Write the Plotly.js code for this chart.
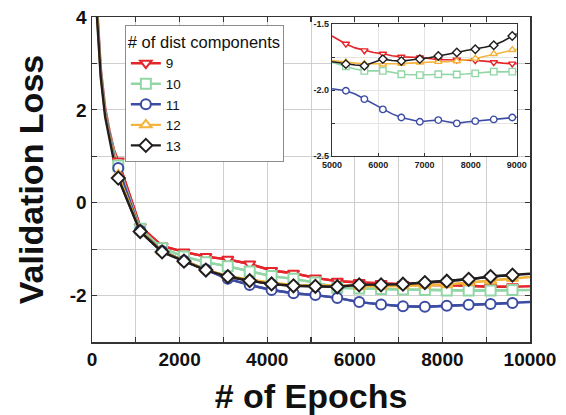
<!DOCTYPE html>
<html>
<head>
<meta charset="utf-8">
<script src="https://cdn.plot.ly/plotly-3.0.1.min.js"></script>
<style>
  html, body { margin: 0; padding: 0; background: #fff; }
  #chart { width: 566px; height: 415px; }
</style>
</head>
<body>
<div id="chart"></div>
<script>
// ---- Data ----
const seriesNames = ['9', '10', '11', '12', '13'];

// Main plot: epochs of the curve points
const mainEpochs = [100, 200, 300, 400, 500, 600, 1100, 1600, 2100, 2600, 3100, 3600, 4100, 4600,
                    5100, 5600, 6100, 6600, 7100, 7600, 8100, 8600, 9100, 9600, 10000];
const loss9  = [4.5, 2.9, 2.05, 1.55, 1.15, 0.9, -0.51, -0.93, -1.06, -1.16, -1.22, -1.32, -1.46, -1.52,
                -1.62, -1.69, -1.72, -1.74, -1.76, -1.77, -1.77, -1.79, -1.81, -1.81, -1.80];
const loss10 = [4.4, 2.85, 2.0, 1.5, 1.1, 0.8, -0.56, -0.98, -1.16, -1.28, -1.37, -1.48, -1.58, -1.64,
                -1.72, -1.83, -1.85, -1.86, -1.87, -1.88, -1.89, -1.89, -1.89, -1.88, -1.88];
const loss11 = [4.35, 2.8, 1.95, 1.45, 1.0, 0.75, -0.6, -1.04, -1.25, -1.44, -1.64, -1.77, -1.88, -1.95,
                -1.99, -2.05, -2.14, -2.19, -2.23, -2.24, -2.22, -2.20, -2.18, -2.16, -2.14];
const loss12 = [4.3, 2.75, 1.9, 1.4, 0.95, 0.6, -0.6, -1.05, -1.25, -1.44, -1.58, -1.66, -1.73, -1.77,
                -1.78, -1.79, -1.805, -1.80, -1.79, -1.78, -1.765, -1.72, -1.68, -1.63, -1.60];
const loss13 = [4.2, 2.7, 1.85, 1.35, 0.9, 0.53, -0.62, -1.06, -1.26, -1.45, -1.59, -1.68, -1.75, -1.79,
                -1.80, -1.81, -1.77, -1.77, -1.755, -1.72, -1.69, -1.65, -1.59, -1.56, -1.53];

// Inset (zoom 5000-9000)
const insetEpochs = [5000, 5100, 5300, 5500, 5700, 5900, 6100, 6300, 6500, 6700, 6900, 7100,
                     7300, 7500, 7700, 7900, 8100, 8300, 8500, 8700, 8900, 9000];
const inset9  = [-1.59, -1.61, -1.65, -1.68, -1.70, -1.715, -1.725, -1.74, -1.748, -1.75, -1.753, -1.76,
                 -1.77, -1.77, -1.77, -1.77, -1.775, -1.78, -1.79, -1.795, -1.80, -1.80];
const inset10 = [-1.79, -1.80, -1.82, -1.84, -1.854, -1.855, -1.854, -1.865, -1.88, -1.884, -1.886, -1.884,
                 -1.88, -1.882, -1.882, -1.878, -1.873, -1.868, -1.86, -1.862, -1.86, -1.858];
const inset11 = [-1.99, -1.995, -2.005, -2.03, -2.068, -2.11, -2.146, -2.18, -2.207, -2.225, -2.24, -2.232,
                 -2.227, -2.24, -2.252, -2.242, -2.235, -2.232, -2.222, -2.218, -2.207, -2.205];
const inset12 = [-1.775, -1.78, -1.788, -1.795, -1.80, -1.80, -1.805, -1.805, -1.80, -1.795, -1.79, -1.79,
                 -1.785, -1.785, -1.78, -1.772, -1.76, -1.745, -1.725, -1.71, -1.695, -1.69];
const inset13 = [-1.785, -1.79, -1.803, -1.81, -1.815, -1.79, -1.765, -1.775, -1.78, -1.772, -1.765, -1.755,
                 -1.742, -1.73, -1.715, -1.70, -1.69, -1.675, -1.66, -1.63, -1.59, -1.572];

// Axis ticks
const xTickVals = [0, 1000, 2000, 3000, 4000, 5000, 6000, 7000, 8000, 9000, 10000];
const xTickText = ['0', '', '2000', '', '4000', '', '6000', '', '8000', '', '10000'];
const yTickVals = [-3, -2, -1, 0, 1, 2, 3, 4];
const yTickText = ['', '-2', '', '0', '', '2', '', '4'];
const insetXTickVals = [5000, 6000, 7000, 8000, 9000];
const insetXTickText = ['5000', '6000', '7000', '8000', '9000'];
const insetYTickVals = [-2.5, -2.25, -2.0, -1.75, -1.5];
const insetYTickText = ['-2.5', '', '-2.0', '', '-1.5'];

// ---- Styles ----
const colors  = ['#e5252b', '#93d6a6', '#3c4ca4', '#f2b43b', '#221e1f'];
const symbols = ['triangle-down', 'square', 'circle', 'triangle-up', 'diamond'];
const mainLoss  = [loss9, loss10, loss11, loss12, loss13];
const insetLoss = [inset9, inset10, inset11, inset12, inset13];

const FONT = 'Liberation Sans, Arial, Helvetica, sans-serif';

function pick(xs, ys, keep) {
  const ox = [], oy = [];
  xs.forEach((x, i) => { if (keep(x)) { ox.push(x); oy.push(ys[i]); } });
  return { x: ox, y: oy };
}
const isMainMarker  = e => e >= 600 && e <= 9600 && (e - 600) % 500 === 0;
const isInsetMarker = e => e >= 5300 && e <= 8900 && (e - 5300) % 400 === 0;

const traces = [];
// main lines (full curves)
mainLoss.forEach((ys, i) => {
  traces.push({
    x: mainEpochs, y: ys, mode: 'lines', type: 'scatter',
    line: { color: colors[i], width: 2.4 }, showlegend: false, hoverinfo: 'skip',
    xaxis: 'x', yaxis: 'y'
  });
});
// main markers (legend entries)
mainLoss.forEach((ys, i) => {
  const p = pick(mainEpochs, ys, isMainMarker);
  traces.push({
    x: p.x, y: p.y, mode: 'lines+markers', type: 'scatter', name: seriesNames[i],
    line: { color: colors[i], width: 2.4 },
    marker: { symbol: symbols[i], size: 10, color: '#ffffff', line: { color: colors[i], width: 2 } },
    xaxis: 'x', yaxis: 'y'
  });
});
// inset lines
insetLoss.forEach((ys, i) => {
  traces.push({
    x: insetEpochs, y: ys, mode: 'lines', type: 'scatter',
    line: { color: colors[i], width: 1.6 }, showlegend: false, hoverinfo: 'skip',
    xaxis: 'x2', yaxis: 'y2', cliponaxis: true
  });
});
// inset markers
insetLoss.forEach((ys, i) => {
  const p = pick(insetEpochs, ys, isInsetMarker);
  traces.push({
    x: p.x, y: p.y, mode: 'markers', type: 'scatter', showlegend: false,
    marker: { symbol: symbols[i], size: 6.5, color: '#ffffff', line: { color: colors[i], width: 1.4 } },
    xaxis: 'x2', yaxis: 'y2'
  });
});

const layout = {
  width: 566, height: 415,
  margin: { l: 92, r: 36, t: 17, b: 73 },
  paper_bgcolor: '#ffffff', plot_bgcolor: '#ffffff',
  font: { family: FONT, color: '#111' },
  showlegend: true,
  legend: {
    x: 0.075, y: 0.974, xanchor: 'left', yanchor: 'top',
    bgcolor: '#ffffff', bordercolor: '#8c8c8c', borderwidth: 1,
    font: { family: FONT, size: 13.5, color: '#111' },
    title: { text: '# of dist components', font: { family: FONT, size: 16.5, color: '#111' } }
  },
  xaxis: {
    domain: [0, 1], range: [0, 10000], anchor: 'y',
    tickmode: 'array', tickvals: xTickVals, ticktext: xTickText,
    ticks: 'inside', ticklen: 5, tickwidth: 1.2, tickcolor: '#333',
    showline: true, linecolor: '#333', linewidth: 1.5, mirror: 'ticks',
    showgrid: true, gridcolor: '#cfcfcf', gridwidth: 1, zeroline: false,
    tickfont: { family: FONT, size: 19, weight: 'bold', color: '#111' },
    title: { text: '# of Epochs', standoff: 15, font: { family: FONT, size: 34, weight: 'bold', color: '#111' } }
  },
  yaxis: {
    domain: [0, 1], range: [-3, 4], anchor: 'x',
    tickmode: 'array', tickvals: yTickVals, ticktext: yTickText,
    ticks: 'inside', ticklen: 5, tickwidth: 1.2, tickcolor: '#333',
    showline: true, linecolor: '#333', linewidth: 1.5, mirror: 'ticks',
    showgrid: true, gridcolor: '#cfcfcf', gridwidth: 1, zeroline: false,
    tickfont: { family: FONT, size: 19, weight: 'bold', color: '#111' },
    title: { text: 'Validation Loss', standoff: 16, font: { family: FONT, size: 34, weight: 'bold', color: '#111' } }
  },
  xaxis2: {
    domain: [0.548, 0.970], range: [5000, 9000], anchor: 'y2',
    tickmode: 'array', tickvals: insetXTickVals, ticktext: insetXTickText,
    ticks: 'inside', ticklen: 3, tickwidth: 1, tickcolor: '#333',
    showline: true, linecolor: '#333', linewidth: 1.3, mirror: 'ticks',
    showgrid: true, gridcolor: '#e4e4e4', gridwidth: 1, zeroline: false,
    tickfont: { family: FONT, size: 9, weight: 'bold', color: '#222' }
  },
  yaxis2: {
    domain: [0.572, 0.978], range: [-2.5, -1.5], anchor: 'x2',
    tickmode: 'array', tickvals: insetYTickVals, ticktext: insetYTickText,
    ticks: 'inside', ticklen: 3, tickwidth: 1, tickcolor: '#333',
    showline: true, linecolor: '#333', linewidth: 1.3, mirror: 'ticks',
    showgrid: true, gridcolor: '#e4e4e4', gridwidth: 1, zeroline: false,
    tickfont: { family: FONT, size: 9, weight: 'bold', color: '#222' }
  }
};

Plotly.newPlot('chart', traces, layout, { staticPlot: true, displayModeBar: false });
</script>
</body>
</html>
